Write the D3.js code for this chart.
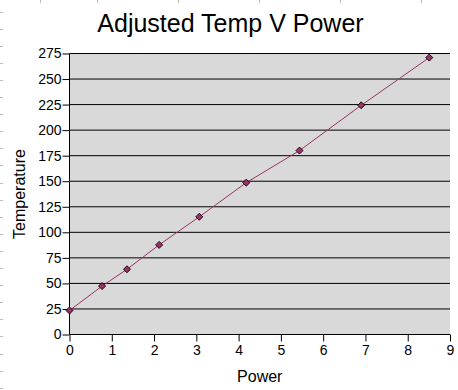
<!DOCTYPE html>
<html>
<head>
<meta charset="utf-8">
<script src="https://cdn.jsdelivr.net/npm/d3@7"></script>
<style>
html,body{margin:0;padding:0;background:#fff;}
svg{display:block;}
text{font-family:"Liberation Sans",Arial,sans-serif;fill:#000;}
</style>
</head>
<body>
<svg id="chart" width="458" height="390"></svg>
<script>
const power = [0, 0.77, 1.36, 2.12, 3.07, 4.18, 5.44, 6.90, 8.51];
const temperature = [23.5, 47.4, 63.8, 87.7, 115.2, 148.6, 180, 224.3, 271];
const xTicks = [0,1,2,3,4,5,6,7,8,9];
const yTicks = [0,25,50,75,100,125,150,175,200,225,250,275];
const title = "Adjusted Temp V Power";
const xLabel = "Power";
const yLabel = "Temperature";

const svg = d3.select("#chart");
const pLeft = 69.5, pRight = 450, pTop = 53.5, pBottom = 334.5;

const x = d3.scaleLinear().domain([0, 9]).range([pLeft, pRight]);
const y = d3.scaleLinear().domain([0, 275]).range([pBottom, pTop]);

// spreadsheet artifact marks
const colMarks = [40, 97, 178, 259, 340, 421];
svg.selectAll(".cm").data(colMarks).enter().append("line")
  .attr("x1", d => d + 0.5).attr("x2", d => d + 0.5).attr("y1", 0).attr("y2", 3)
  .attr("stroke", "#bbb").attr("stroke-width", 1);
const rowMarks = d3.range(11.5, 390, 17.1);
svg.selectAll(".rm").data(rowMarks).enter().append("line")
  .attr("x1", 0).attr("x2", 3).attr("y1", d => Math.round(d) + 0.5).attr("y2", d => Math.round(d) + 0.5)
  .attr("stroke", "#bbb").attr("stroke-width", 1);

// plot background
svg.append("rect").attr("x", pLeft).attr("y", pTop).attr("width", pRight - pLeft).attr("height", pBottom - pTop)
  .attr("fill", "#d9d9d9");

// gridlines
svg.append("g").selectAll("line").data(yTicks.filter(d => d > 0)).enter().append("line")
  .attr("x1", pLeft).attr("x2", pRight)
  .attr("y1", d => y(d)).attr("y2", d => y(d))
  .attr("stroke", "#000").attr("stroke-width", 1);

// axes
const yAxis = d3.axisLeft(y).tickValues(yTicks).tickSize(7).tickPadding(1).tickFormat(d3.format("d"));
const gy = svg.append("g").attr("transform", `translate(${pLeft},0)`).call(yAxis);
const xAxis = d3.axisBottom(x).tickValues(xTicks).tickSize(7).tickPadding(4).tickFormat(d3.format("d"));
const gx = svg.append("g").attr("transform", `translate(0,${pBottom})`).call(xAxis);
[gx, gy].forEach(g => {
  g.select(".domain").remove();
  g.selectAll(".tick line").attr("stroke", "#000");
  g.selectAll("text").style("font-size", "14px").attr("fill", "#000")
    .style("font-family", "'Liberation Sans', Arial, sans-serif");
});
svg.append("line").attr("x1", pLeft).attr("x2", pLeft).attr("y1", pTop).attr("y2", pBottom).attr("stroke", "#000");
svg.append("line").attr("x1", pLeft).attr("x2", pRight).attr("y1", pBottom).attr("y2", pBottom).attr("stroke", "#000");

// series line
const pts = power.map((p, i) => [p, temperature[i]]);
svg.append("path").datum(pts)
  .attr("fill", "none").attr("stroke", "#993366").attr("stroke-width", 1)
  .attr("d", d3.line().x(d => x(d[0])).y(d => y(d[1])));

// markers
svg.selectAll(".mk").data(pts).enter().append("path")
  .attr("transform", d => `translate(${x(d[0])},${y(d[1])})`)
  .attr("d", "M0,-3.5L3.5,0L0,3.5L-3.5,0Z")
  .attr("fill", "#993366").attr("stroke", "#1a0a10").attr("stroke-width", 1);

// titles
svg.append("text").attr("x", 230.5).attr("y", 32).attr("text-anchor", "middle")
  .style("font-size", "25px").text(title);
svg.append("text").attr("x", (pLeft + pRight) / 2).attr("y", 382).attr("text-anchor", "middle")
  .style("font-size", "16px").text(xLabel);
svg.append("text").attr("transform", "translate(25,194) rotate(-90)").attr("text-anchor", "middle")
  .style("font-size", "16px").text(yLabel);
</script>
</body>
</html>
